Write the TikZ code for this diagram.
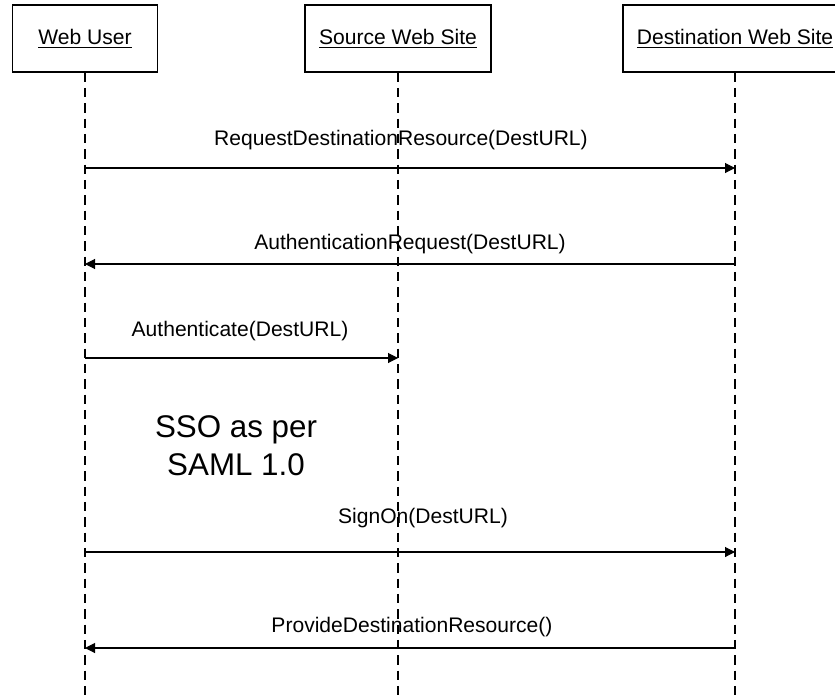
\documentclass[tikz,border=0pt]{standalone}
\usepackage{fontspec}
\setmainfont{Liberation Sans}
\usetikzlibrary{arrows.meta, positioning}

\tikzset{
  actor/.style={draw, line width=0.8pt, minimum height=50.25pt, inner sep=0pt,
    font=\fontsize{15.8}{18}\selectfont},
  lifeline/.style={line width=0.8pt, dash pattern=on 7pt off 4.5pt},
  msg/.style={line width=0.8pt, -{Triangle[length=7.5pt, width=7.5pt]}},
  msglabel/.style={inner sep=0pt, font=\fontsize{15.8}{18}\selectfont},
  note/.style={inner sep=0pt, align=center, font=\fontsize{23.5}{28.5}\selectfont}
}

\begin{document}
\begin{tikzpicture}[x=0.75pt, y=-0.75pt]
  \useasboundingbox (0,0) rectangle (835,696);

  % actors
  \node[actor, minimum width=108.75pt] (user) at (85,38.5) {\underline{Web User}};
  \node[actor, minimum width=139.5pt] (source) at (398,38.5) {\underline{Source Web Site}};
  \node[actor, minimum width=168pt] (dest) at (735,38.5) {\underline{Destination Web Site}};

  % lifelines
  \coordinate (bottom) at (0,700);
  \draw[lifeline] (user.south) -- (user |- bottom);
  \draw[lifeline] (source.south) -- (source |- bottom);
  \draw[lifeline] (dest.south) -- (dest |- bottom);

  % message heights
  \coordinate (m1) at (0,168);
  \coordinate (m2) at (0,264);
  \coordinate (m3) at (0,358);
  \coordinate (m5) at (0,552);
  \coordinate (m6) at (0,648);

  % messages
  \draw[msg] (user |- m1) -- (dest |- m1);
  \node[msglabel] (l1) at (401,140) {RequestDestinationResource(DestURL)};

  \draw[msg] (dest |- m2) -- (user |- m2);
  \node[msglabel] (l2) at (410,244) {AuthenticationRequest(DestURL)};

  \draw[msg] (user |- m3) -- (source |- m3);
  \node[msglabel] (l3) at (240,331) {Authenticate(DestURL)};

  % note
  \node[note] (sso) at (236,446) {SSO as per\\SAML 1.0};

  \draw[msg] (user |- m5) -- (dest |- m5);
  \node[msglabel] (l5) at (423,518) {SignOn(DestURL)};

  \draw[msg] (dest |- m6) -- (user |- m6);
  \node[msglabel] (l6) at (412,627) {ProvideDestinationResource()};
\end{tikzpicture}
\end{document}
